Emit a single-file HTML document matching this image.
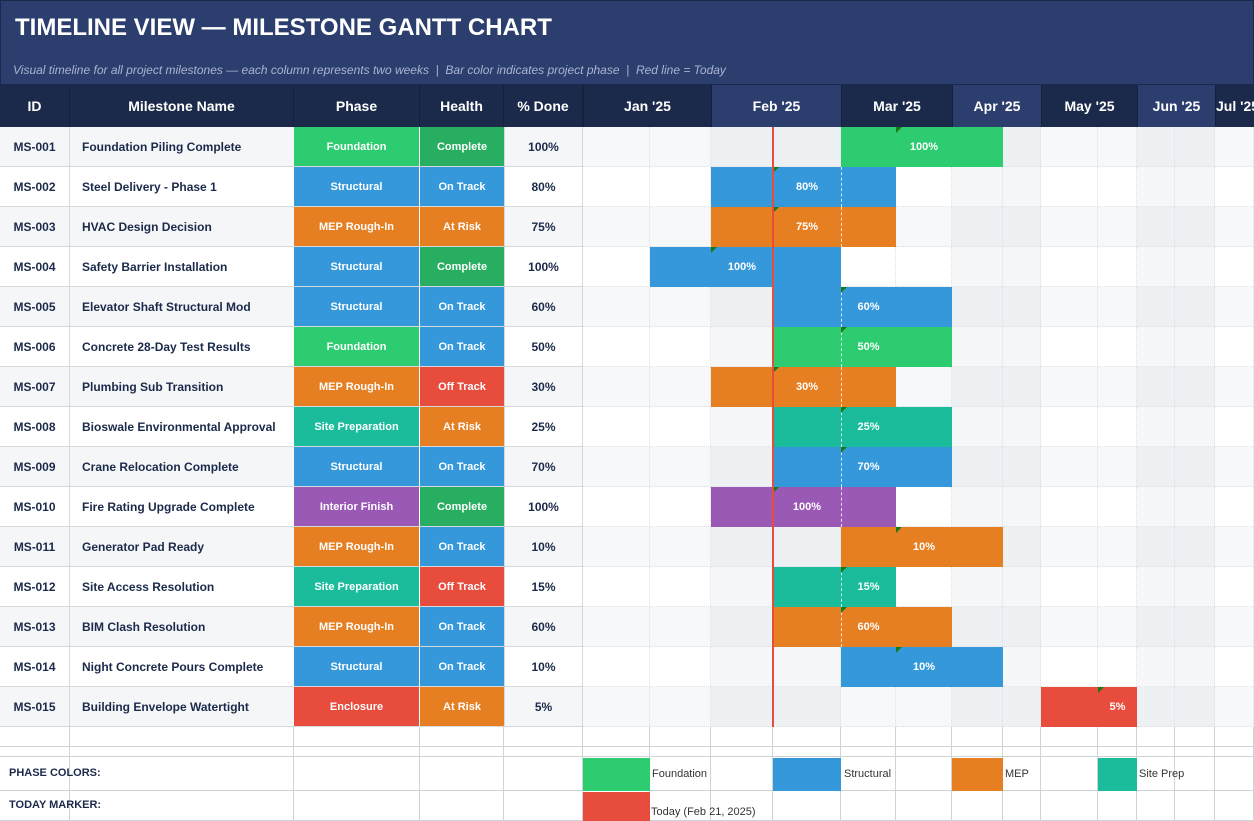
<!DOCTYPE html>
<html><head><meta charset="utf-8"><style>
*{margin:0;padding:0;box-sizing:border-box}
body{width:1254px;height:821px;overflow:hidden;background:#fff;font-family:"Liberation Sans",Arial,sans-serif;position:relative}
.a{position:absolute}
.t{display:flex;align-items:center;justify-content:center;font-size:12px;font-weight:bold}
</style></head><body>
<div class="a" style="left:0;top:0;width:1254px;height:85px;background:#2c3e6e;border:1px solid #1b2a4a"></div>
<div class="a" style="left:15px;top:14px;color:#fff;font-size:24px;font-weight:bold">TIMELINE VIEW — MILESTONE GANTT CHART</div>
<div class="a" style="left:13px;top:63px;color:#a9b4cf;font-size:12px;font-style:italic">Visual timeline for all project milestones — each column represents two weeks &nbsp;|&nbsp; Bar color indicates project phase &nbsp;|&nbsp; Red line = Today</div>
<div id="g"></div>
<script>
const H=[[0,70,'ID'],[70,294,'Milestone Name'],[294,420,'Phase'],[420,504,'Health'],[504,583,'% Done']];
const M=[[583,711,"Jan '25",0],[711,841,"Feb '25",1],[841,952,"Mar '25",0],[952,1041,"Apr '25",1],[1041,1137,"May '25",0],[1137,1215,"Jun '25",1],[1215,1254,"Jul '25",0]];
const C=[583,650,711,773,841,896,952,1003,1041,1098,1137,1175,1215,1254];
const shadeCol=[0,0,1,1,0,0,1,1,0,0,1,1,0];
const PC={Foundation:'#2ecc71',Structural:'#3498db','MEP Rough-In':'#e67e22','Site Preparation':'#1abc9c','Interior Finish':'#9b59b6',Enclosure:'#e74c3c'};
const HC={Complete:'#27ae60','On Track':'#3498db','At Risk':'#e67e22','Off Track':'#e74c3c'};
const R=[
['Foundation Piling Complete','Foundation','Complete','100%',841,1003,896,952],
['Steel Delivery - Phase 1','Structural','On Track','80%',711,896,773,841],
['HVAC Design Decision','MEP Rough-In','At Risk','75%',711,896,773,841],
['Safety Barrier Installation','Structural','Complete','100%',650,841,711,773],
['Elevator Shaft Structural Mod','Structural','On Track','60%',773,952,841,896],
['Concrete 28-Day Test Results','Foundation','On Track','50%',773,952,841,896],
['Plumbing Sub Transition','MEP Rough-In','Off Track','30%',711,896,773,841],
['Bioswale Environmental Approval','Site Preparation','At Risk','25%',773,952,841,896],
['Crane Relocation Complete','Structural','On Track','70%',773,952,841,896],
['Fire Rating Upgrade Complete','Interior Finish','Complete','100%',711,896,773,841],
['Generator Pad Ready','MEP Rough-In','On Track','10%',841,1003,896,952],
['Site Access Resolution','Site Preparation','Off Track','15%',773,896,841,896],
['BIM Clash Resolution','MEP Rough-In','On Track','60%',773,952,841,896],
['Night Concrete Pours Complete','Structural','On Track','10%',841,1003,896,952],
['Building Envelope Watertight','Enclosure','At Risk','5%',1041,1137,1098,1137]];
let h='';
const d=(x,y,w,ht,s,txt='')=>h+=`<div class="a" style="left:${x}px;top:${y}px;width:${w}px;height:${ht}px;${s}">${txt}</div>`;
d(0,85,1254,42,'background:#1b2a4a');
H.forEach(c=>d(c[0],85,c[1]-c[0],42,'border-right:1px solid #15213b;color:#fff;font-size:14px;font-weight:bold;display:flex;align-items:center;justify-content:center',c[2]));
M.forEach(m=>d(m[0],85,m[1]-m[0],42,`background:${m[3]?'#2c3e6e':'#1b2a4a'};border-left:1px solid #15213b;color:#fff;font-size:14px;font-weight:bold;display:flex;align-items:center;justify-content:${m[2]=="Jul '25"?'flex-start':'center'};white-space:nowrap;overflow:hidden`,m[2]));
R.forEach((r,i)=>{
 const y=127+i*40,odd=i%2==0,base=odd?'#f5f6f8':'#fff';
 d(0,y,583,40,`background:${base};border-bottom:1px solid #d5d8dc`);
 d(0,y,70,40,'border-right:1px solid #d5d8dc;color:#1b2a4a;font-size:12px;font-weight:bold;display:flex;align-items:center;justify-content:center','MS-0'+String(i+1).padStart(2,'0'));
 d(70,y,224,40,'color:#1b2a4a;font-size:12px;font-weight:bold;display:flex;align-items:center;padding-left:12px',r[0]);
 d(294,y,126,40,`background:${PC[r[1]]};border-right:1px solid #fff;border-bottom:1px solid #d5d8dc;color:#fff;font-size:11px;font-weight:bold;display:flex;align-items:center;justify-content:center`,r[1]);
 d(420,y,84,40,`background:${HC[r[2]]};border-bottom:1px solid #d5d8dc;color:#fff;font-size:11px;font-weight:bold;display:flex;align-items:center;justify-content:center`,r[2]);
 d(504,y,79,40,'border-left:1px solid #d5d8dc;border-right:1px solid #d5d8dc;color:#1b2a4a;font-size:12px;font-weight:bold;display:flex;align-items:center;justify-content:center',r[3]);
 for(let k=0;k<13;k++){const bg=shadeCol[k]?(odd?'#eef1f4':'#f6f7f9'):(odd?'#f7f8fa':'#fff');
  d(C[k],y,C[k+1]-C[k],40,`background:${bg};border-right:1px dotted #dcdfe3;border-bottom:1px dotted #dcdfe3`);}
 const col=PC[r[1]];
 d(r[4],y,r[5]-r[4],40,`background:${col}`);
 if(r[4]<841&&r[5]>841)d(841,y,0,40,'border-left:1px dashed rgba(255,255,255,.8)');
 d(r[6],y,r[7]-r[6],40,'color:#fff;font-size:11px;font-weight:bold;display:flex;align-items:center;justify-content:center',r[3]);
 d(r[6],y,0,0,'border-top:6px solid #1a7a1a;border-right:6px solid transparent');
});
d(772,127,2,600,'background:#e74c3c');
// bottom rows
const br=[[727,20],[747,10],[757,34],[791,30]];
const lc=[0,70,294,420,504,583].concat(C.slice(1));
br.forEach(b=>{d(0,b[0],1254,b[1],'border-bottom:1px solid #d0d3d6');
 lc.forEach((x,j)=>{if(j<lc.length-1)d(x,b[0],lc[j+1]-x,b[1],'border-right:1px solid #d0d3d6')})});
d(583,758,67,33,'background:#2ecc71');d(773,758,68,33,'background:#3498db');d(952,758,51,33,'background:#e67e22');d(1098,758,39,33,'background:#1abc9c');
d(583,792,67,29,'background:#e74c3c');
const L=(x,y,t)=>d(x,y,200,14,'font-size:11px;color:#333;white-space:nowrap',t);
L(652,768,'Foundation');L(844,768,'Structural');L(1005,768,'MEP');L(1139,768,'Site Prep');L(651,806,'Today (Feb 21, 2025)');
d(9,767,200,14,'font-size:11px;font-weight:bold;color:#1b2a4a','PHASE COLORS:');
d(9,799,200,14,'font-size:11px;font-weight:bold;color:#1b2a4a','TODAY MARKER:');
document.getElementById('g').innerHTML=h;
</script>
</body></html>
